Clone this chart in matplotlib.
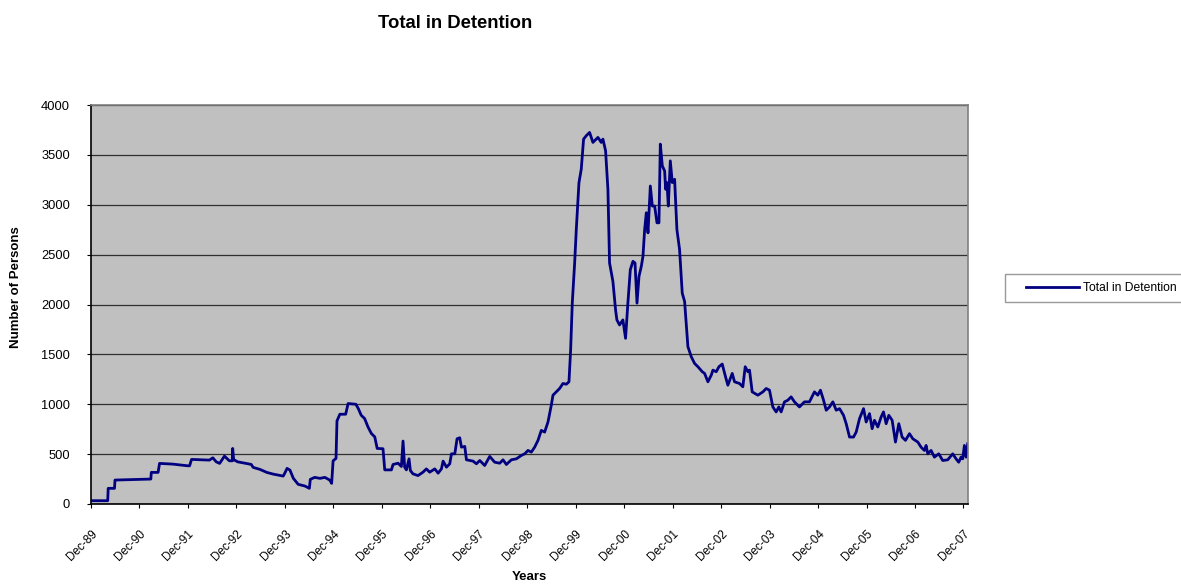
#! /usr/bin/env python3
import datetime
import matplotlib
matplotlib.use('Agg')
import matplotlib.pyplot as plt
from matplotlib.dates import DateFormatter
from matplotlib.legend_handler import HandlerLine2D

plt.rcParams['font.family'] = ['Liberation Sans', 'DejaVu Sans']

years = [
    1989.92, 1990.26, 1990.27, 1990.40, 1990.41, 1991.15, 1991.16, 1991.30,
    1991.33, 1991.60, 1991.91, 1991.95, 1991.99, 1992.36, 1992.43, 1992.50,
    1992.57, 1992.67, 1992.77, 1992.83, 1992.84, 1992.86, 1992.88, 1992.94,
    1993.22, 1993.26, 1993.40, 1993.54, 1993.67, 1993.88, 1993.91, 1993.96,
    1994.02, 1994.09, 1994.19, 1994.33, 1994.42, 1994.44, 1994.53, 1994.64,
    1994.74, 1994.84, 1994.88, 1994.91, 1994.97, 1994.99, 1995.05, 1995.17,
    1995.22, 1995.38, 1995.43, 1995.49, 1995.56, 1995.63, 1995.70, 1995.77,
    1995.82, 1995.94, 1995.976, 1996.114, 1996.148, 1996.251, 1996.320,
    1996.354, 1996.388, 1996.423, 1996.478, 1996.505, 1996.560, 1996.663,
    1996.766, 1996.835, 1996.904, 1997.007, 1997.076, 1997.144, 1997.179,
    1997.248, 1997.316, 1997.351, 1997.420, 1997.467, 1997.522, 1997.557,
    1997.626, 1997.660, 1997.797, 1997.866, 1997.935, 1998.038, 1998.141,
    1998.244, 1998.347, 1998.416, 1998.485, 1998.588, 1998.691, 1998.794,
    1998.863, 1998.931, 1999.000, 1999.069, 1999.138, 1999.206, 1999.275,
    1999.344, 1999.412, 1999.447, 1999.516, 1999.584, 1999.653, 1999.722,
    1999.777, 1999.811, 1999.845, 1999.894, 1999.928, 1999.983, 2000.031,
    2000.079, 2000.134, 2000.203, 2000.272, 2000.375, 2000.443, 2000.478,
    2000.533, 2000.581, 2000.615, 2000.684, 2000.739, 2000.766, 2000.821,
    2000.890, 2000.945, 2000.993, 2001.041, 2001.096, 2001.138, 2001.179,
    2001.220, 2001.268, 2001.302, 2001.337, 2001.371, 2001.406, 2001.454,
    2001.495, 2001.543, 2001.591, 2001.632, 2001.660, 2001.701, 2001.749,
    2001.770, 2001.797, 2001.825, 2001.866, 2001.907, 2001.955, 2002.003,
    2002.058, 2002.113, 2002.162, 2002.230, 2002.299, 2002.368, 2002.437,
    2002.526, 2002.574, 2002.643, 2002.712, 2002.746, 2002.815, 2002.870,
    2002.938, 2003.007, 2003.055, 2003.145, 2003.193, 2003.296, 2003.364,
    2003.413, 2003.468, 2003.502, 2003.557, 2003.674, 2003.777, 2003.846,
    2003.914, 2003.983, 2004.052, 2004.107, 2004.155, 2004.224, 2004.292,
    2004.361, 2004.430, 2004.533, 2004.636, 2004.739, 2004.842, 2004.911,
    2004.966, 2005.028, 2005.083, 2005.151, 2005.220, 2005.289, 2005.358,
    2005.440, 2005.495, 2005.564, 2005.646, 2005.701, 2005.770, 2005.853,
    2005.907, 2005.976, 2006.031, 2006.079, 2006.148, 2006.217, 2006.265,
    2006.320, 2006.375, 2006.444, 2006.512, 2006.581, 2006.650, 2006.719,
    2006.801, 2006.870, 2006.973, 2007.041, 2007.110, 2007.145, 2007.179,
    2007.248, 2007.316, 2007.406, 2007.488, 2007.591, 2007.694, 2007.763,
    2007.818, 2007.866, 2007.900, 2007.935, 2007.969, 2008.004,
]
totals = [
    33, 33, 157, 157, 240, 250, 317, 317,
    407, 400, 383, 383, 447, 440, 463, 423,
    407, 480, 433, 433, 557, 440, 440, 423,
    397, 367, 347, 317, 300, 280, 307, 357,
    340, 257, 197, 180, 157, 247, 267, 257,
    267, 240, 207, 433, 457, 833, 900, 900,
    1007, 1000, 957, 890, 857, 773, 707, 673,
    557, 554, 342, 342, 396, 409, 376,
    631, 369, 342, 453, 336, 302, 285,
    319, 352, 319, 352, 309, 352, 430,
    369, 403, 503, 503, 654, 664, 570,
    577, 443, 430, 403, 436, 386, 477,
    419, 409, 443, 396, 443, 453, 487,
    503, 537, 520, 570, 638, 738, 721,
    822, 990, 1091, 1124, 1158, 1208, 1201,
    1225, 1544, 2014, 2416, 2752, 3222, 3356,
    3658, 3692, 3725, 3625, 3675, 3625, 3658,
    3541, 3155, 2416, 2232, 1946, 1846, 1795,
    1846, 1661, 2014, 2349, 2433, 2416, 2014,
    2282, 2383, 2483, 2752, 2920, 2718, 3188,
    2987, 2987, 2819, 2819, 3608, 3390, 3339,
    3155, 3222, 2987, 3440, 3222, 3255, 2752,
    2551, 2114, 2030, 1577, 1477, 1409, 1376,
    1326, 1309, 1225, 1292, 1342, 1326, 1376,
    1403, 1275, 1191, 1309, 1225, 1208, 1175,
    1376, 1326, 1342, 1124, 1091, 1124, 1158,
    1141, 973, 923, 973, 923, 1024, 1040,
    1074, 1024, 973, 1024, 1024, 1124, 1091,
    1141, 1040, 940, 973, 1024, 940, 956,
    889, 805, 671, 671, 721, 856, 956,
    822, 906, 755, 839, 772, 873, 923,
    805, 889, 839, 621, 805, 671, 638,
    705, 654, 621, 570, 537, 587, 503,
    537, 470, 503, 436, 443, 503, 453,
    419, 470, 453, 587, 470, 604,
]


def to_date(y):
    yr = int(y)
    return datetime.datetime(yr, 1, 1) + datetime.timedelta(days=(y - yr) * 365.25)


dates = [to_date(y) for y in years]
tick_dates = [datetime.date(y, 12, 1) for y in range(1989, 2008)]

fig = plt.figure(figsize=(11.81, 5.85), dpi=100)
ax = fig.add_axes([91 / 1181, 1 - 504 / 585, 877 / 1181, 399 / 585])
ax.set_facecolor('#c0c0c0')

line, = ax.plot(dates, totals, color='#000080', linewidth=2.0, label='Total in Detention')

ax.set_ylim(0, 4000)
ax.set_yticks(range(0, 4001, 500))
ax.set_xlim(datetime.date(1989, 12, 1), to_date(2008.01))
ax.set_xticks(tick_dates)
ax.xaxis.set_major_formatter(DateFormatter('%b-%y'))
ax.yaxis.grid(True, color='#303030', linewidth=0.9)
ax.set_axisbelow(True)

ax.tick_params(axis='both', length=3, color='black', direction='out')
ax.tick_params(axis='y', labelsize=9.3, pad=12)
ax.tick_params(axis='x', labelsize=8.5, pad=14)
for lab in ax.get_xticklabels():
    lab.set_rotation(45)
    lab.set_ha('right')
    lab.set_rotation_mode('anchor')

ax.spines['left'].set_color('black')
ax.spines['bottom'].set_color('black')
ax.spines['top'].set_color('#808080')
ax.spines['right'].set_color('#808080')
for s in ax.spines.values():
    s.set_linewidth(1.2)

ax.set_xlabel('Years', fontsize=9.5, fontweight='bold')
ax.xaxis.set_label_coords(0.5, -0.168)
ax.set_ylabel('Number of Persons', fontsize=9.5, fontweight='bold')
ax.yaxis.set_label_coords(-0.079, 0.5426)
fig.text(455 / 1181, 1 - 23 / 585, 'Total in Detention', fontsize=13.3, fontweight='bold',
         ha='center', va='center')

fig.legend(handles=[line], loc='center left', bbox_to_anchor=(1005 / 1181, 1 - 288 / 585),
           borderaxespad=0, fontsize=8.7, frameon=True, fancybox=False, edgecolor='#808080',
           handlelength=5.4, handletextpad=0.33, borderpad=0.7,
           handler_map={line: HandlerLine2D(xpad=1.03)})

fig.savefig('out.png', dpi=100)
